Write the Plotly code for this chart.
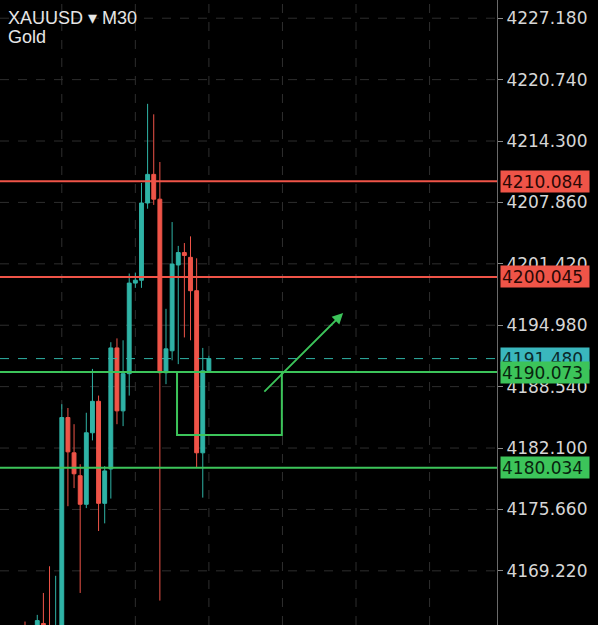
import plotly.graph_objects as go

# ---- data ----
idx = list(range(31))
opens = [4162.0, 4160.5, 4162.0, 4163.7, 4162.5, 4160.0, 4161.0, 4185.3, 4181.6, 4179.2,
         4176.2, 4183.7, 4187.0, 4176.3, 4179.9, 4192.6, 4186.0, 4189.9, 4199.4, 4199.7,
         4207.8, 4210.8, 4208.2, 4190.0, 4192.3, 4201.3, 4202.6, 4202.1, 4198.6, 4181.6, 4190.2]
highs = [4163.9, 4162.0, 4164.6, 4166.9, 4169.7, 4168.7, 4186.7, 4186.3, 4184.6, 4180.4,
         4185.8, 4190.4, 4187.6, 4180.2, 4193.2, 4193.6, 4193.4, 4200.4, 4200.5, 4209.9,
         4218.2, 4217.1, 4212.1, 4196.7, 4205.8, 4203.3, 4203.6, 4204.3, 4202.0, 4192.6, 4191.8]
lows = [4158.0, 4158.0, 4160.0, 4159.0, 4158.0, 4159.0, 4159.0, 4176.0, 4177.9, 4166.9,
        4175.8, 4182.9, 4173.4, 4174.2, 4176.8, 4184.6, 4184.4, 4187.6, 4198.9, 4198.9,
        4207.2, 4207.6, 4166.1, 4188.8, 4191.3, 4190.9, 4193.7, 4193.4, 4180.0, 4176.9, 4190.0]
closes = [4161.0, 4161.5, 4164.0, 4161.0, 4160.0, 4162.0, 4185.3, 4181.7, 4179.4, 4176.2,
          4183.7, 4187.0, 4176.3, 4179.7, 4192.6, 4186.0, 4189.9, 4199.4, 4199.7, 4207.8,
          4210.8, 4208.2, 4190.0, 4192.5, 4201.4, 4202.6, 4202.3, 4198.6, 4181.6, 4190.2, 4191.48]

tick_vals = [4227.180, 4220.740, 4214.300, 4207.860, 4201.420, 4194.980,
             4188.540, 4182.100, 4175.660, 4169.220]
tick_text = ["4227.180", "4220.740", "4214.300", "4207.860", "4201.420", "4194.980",
             "4188.540", "4182.100", "4175.660", "4169.220"]
grid_x = [6, 18, 30, 42, 54, 66]

resistance = [4210.084, 4200.045]
support = [4190.073, 4180.034]
last_price = 4191.480

box_x = [24.8, 41.9]
box_y = [4183.47, 4190.073]
arrow_from = (38.8, 4187.87)
arrow_to = (51.9, 4196.26)

symbol = "XAUUSD \u25BE M30"
name = "Gold"

# ---- styles ----
TEAL = "#2fb3a6"
RED = "#ef5448"
GREEN = "#3cc45a"
BG = "#000000"
AXFONT = "DejaVu Sans"

fig = go.Figure()
fig.add_trace(go.Candlestick(
    x=idx, open=opens, high=highs, low=lows, close=closes,
    increasing=dict(line=dict(color=TEAL, width=1), fillcolor=TEAL),
    decreasing=dict(line=dict(color=RED, width=1), fillcolor=RED),
    whiskerwidth=0, showlegend=False, hoverinfo="skip"))

shapes = []
for g in grid_x:
    shapes.append(dict(type="line", xref="x", yref="paper", x0=g, x1=g, y0=0, y1=1,
                       line=dict(color="#2e2e2e", width=1, dash="dash"), layer="below"))
for t in tick_vals:
    shapes.append(dict(type="line", xref="paper", yref="y", x0=0, x1=1, y0=t, y1=t,
                       line=dict(color="#2e2e2e", width=1, dash="dash"), layer="below"))
shapes.append(dict(type="line", xref="paper", yref="y", x0=0, x1=1, y0=last_price, y1=last_price,
                   line=dict(color=TEAL, width=1, dash="dash")))
for r in resistance:
    shapes.append(dict(type="line", xref="paper", yref="y", x0=0, x1=1, y0=r, y1=r,
                       line=dict(color=RED, width=2)))
for s in support:
    shapes.append(dict(type="line", xref="paper", yref="y", x0=0, x1=1, y0=s, y1=s,
                       line=dict(color=GREEN, width=2)))
shapes.append(dict(type="rect", xref="x", yref="y", x0=box_x[0], x1=box_x[1], y0=box_y[0], y1=box_y[1],
                   line=dict(color=GREEN, width=2), fillcolor="rgba(0,0,0,0)"))

annotations = [
    dict(xref="paper", yref="paper", x=0, y=1, xshift=6, yshift=-18, xanchor="left", yanchor="middle",
         text=symbol, showarrow=False, font=dict(family="Liberation Sans", size=18, color="#e6e6e6")),
    dict(xref="paper", yref="paper", x=0, y=1, xshift=6, yshift=-37, xanchor="left", yanchor="middle",
         text=name, showarrow=False, font=dict(family="Liberation Sans", size=18, color="#e6e6e6")),
    dict(xref="x", yref="y", x=arrow_to[0], y=arrow_to[1], ax=arrow_from[0], ay=arrow_from[1],
         axref="x", ayref="y", showarrow=True, arrowhead=2, arrowsize=1.2, arrowwidth=1.8,
         arrowcolor=GREEN, text=""),
]

def price_box(val, bg, fg):
    return dict(xref="paper", yref="y", x=1, y=val, xshift=3, xanchor="left", yanchor="middle",
                text=f"{val:.3f}", showarrow=False, align="left", width=86, height=19,
                bgcolor=bg, borderpad=1,
                font=dict(family=AXFONT, size=17, color=fg))

annotations.append(price_box(last_price, "#3ab7bd", "#0b2a2b"))
for r in resistance:
    annotations.append(price_box(r, RED, "#2a0805"))
for s in support:
    annotations.append(price_box(s, GREEN, "#08240e"))

fig.update_layout(
    width=598, height=625,
    margin=dict(l=0, r=101, t=0, b=0),
    paper_bgcolor=BG, plot_bgcolor=BG,
    shapes=shapes, annotations=annotations,
    boxgap=0.1,
    xaxis=dict(range=[-4.08, 77.0], showgrid=False, zeroline=False, showticklabels=False,
               rangeslider=dict(visible=False), fixedrange=True),
    yaxis=dict(range=[4163.54, 4229.09], side="right", showgrid=False, zeroline=False,
               tickvals=tick_vals, ticktext=tick_text, ticks="outside", ticklen=5,
               tickcolor="#8a8a8a", showline=True, linecolor="#6a6a6a", linewidth=1,
               tickfont=dict(family=AXFONT, size=17, color="#d6d6d6")),
    showlegend=False,
)

fig.write_html("out.html", config={"displayModeBar": False},
               post_script="document.body.style.margin='0px';document.body.style.background='#000';")
